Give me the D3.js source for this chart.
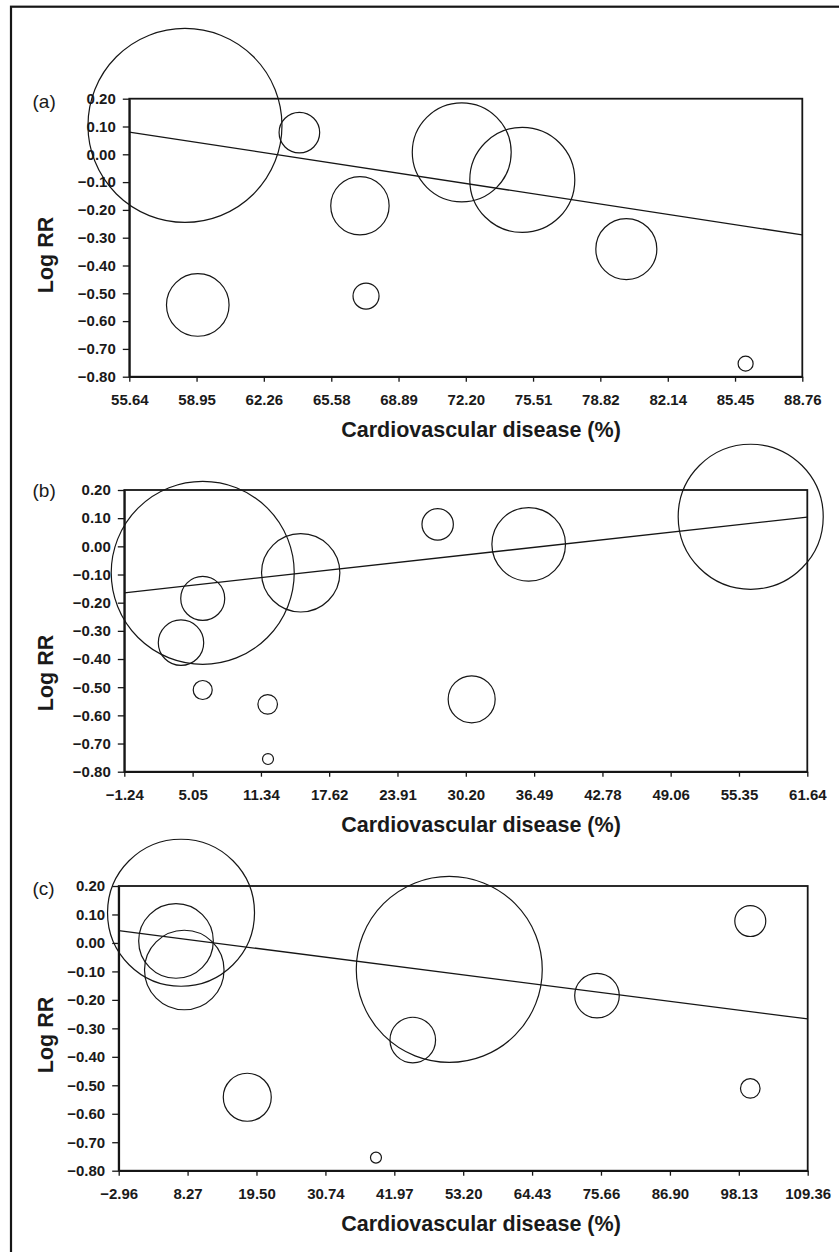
<!DOCTYPE html>
<html>
<head>
<meta charset="utf-8">
<script src="https://cdn.jsdelivr.net/npm/d3@7/dist/d3.min.js"></script>
<style>
  html, body { margin: 0; padding: 0; background: #fff; }
  svg { display: block; }
  text { font-family: "Liberation Sans", Arial, Helvetica, sans-serif; fill: #1a1a1a; }
</style>
</head>
<body>
<svg id="chart" width="839" height="1252"></svg>
<script>
// ---------------- DATA ----------------
const panelLabels = ["(a)", "(b)", "(c)"];
const xTitle = "Cardiovascular disease (%)";
const yTitle = "Log RR";
const yTicks = [0.20, 0.10, 0.00, -0.10, -0.20, -0.30, -0.40, -0.50, -0.60, -0.70, -0.80];

const xTicksA = ["55.64", "58.95", "62.26", "65.58", "68.89", "72.20", "75.51", "78.82", "82.14", "85.45", "88.76"];
const xTicksB = ["\u22121.24", "5.05", "11.34", "17.62", "23.91", "30.20", "36.49", "42.78", "49.06", "55.35", "61.64"];
const xTicksC = ["\u22122.96", "8.27", "19.50", "30.74", "41.97", "53.20", "64.43", "75.66", "86.90", "98.13", "109.36"];

// panel (a)
const cvdA    = [58.38, 64.01, 66.99, 59.01, 67.29, 72.00, 74.98, 80.10, 85.97];
const logRRA  = [0.104, 0.078, -0.185, -0.542, -0.510, 0.007, -0.092, -0.341, -0.753];
const weightA = [100, 4.38, 9.06, 10.41, 1.80, 26.0, 29.3, 9.89, 0.60];
const fitA    = [[55.64, 0.080], [88.76, -0.290]];

// panel (b)
const cvdB    = [5.98, 5.98, 3.98, 5.98, 11.96, 11.99, 15.00, 27.61, 35.99, 56.43, 30.74];
const logRRB  = [-0.094, -0.185, -0.342, -0.510, -0.561, -0.755, -0.094, 0.078, 0.007, 0.105, -0.543];
const weightB = [89.0, 5.14, 5.48, 0.96, 1.02, 0.32, 16.3, 2.62, 14.4, 55.9, 5.87];
const fitB    = [[-1.24, -0.165], [61.64, 0.104]];

// panel (c)
const cvdC    = [7.20, 6.38, 7.73, 18.00, 38.98, 50.93, 44.98, 75.01, 100.00, 100.00];
const logRRC  = [0.106, 0.007, -0.095, -0.542, -0.754, -0.093, -0.341, -0.185, 0.077, -0.511];
const weightC = [57.4, 14.8, 16.8, 6.12, 0.32, 91.9, 5.52, 5.29, 2.55, 1.02];
const fitC    = [[-2.96, 0.043], [109.36, -0.267]];

// ---------------- LAYOUT ----------------
const panels = [
  { label: panelLabels[0], ticks: xTicksA, x: cvdA, y: logRRA, w: weightA, fit: fitA,
    box: { l: 129.3, t: 98.7, r: 802.3, b: 376.7 }, labelY: 108, yTitleY: 255 },
  { label: panelLabels[1], ticks: xTicksB, x: cvdB, y: logRRB, w: weightB, fit: fitB,
    box: { l: 124.3, t: 490, r: 807.3, b: 771.7 }, labelY: 497, yTitleY: 673 },
  { label: panelLabels[2], ticks: xTicksC, x: cvdC, y: logRRC, w: weightC, fit: fitC,
    box: { l: 118.7, t: 886, r: 807.7, b: 1170.7 }, labelY: 895, yTitleY: 1035 }
];

const ink = "#161616";
const svg = d3.select("#chart");

// outer frame (only top and left visible)
svg.append("rect")
  .attr("x", 11).attr("y", 6.7).attr("width", 1000).attr("height", 1400)
  .attr("fill", "none").attr("stroke", ink).attr("stroke-width", 2.2);

const rScale = d3.scaleSqrt().domain([0, 100]).range([0, 97]);
const parseTick = s => +s.replace("\u2212", "-");
const fmtY = d3.format(".2f");
const yLabel = v => { const s = fmtY(Math.abs(v) < 1e-9 ? 0 : v); return s.replace("-", "\u2013"); };

panels.forEach(p => {
  const tv = p.ticks.map(parseTick);
  const x = d3.scaleLinear().domain([tv[0], tv[tv.length - 1]]).range([p.box.l, p.box.r]);
  const y = d3.scaleLinear().domain([-0.8, 0.2]).range([p.box.b, p.box.t]);
  const g = svg.append("g");

  // plot box
  g.append("rect")
    .attr("x", p.box.l).attr("y", p.box.t)
    .attr("width", p.box.r - p.box.l).attr("height", p.box.b - p.box.t)
    .attr("fill", "none").attr("stroke", ink).attr("stroke-width", 1.8);

  // x axis
  const xAxis = d3.axisBottom(x).tickValues(tv)
    .tickFormat((d, i) => p.ticks[i]).tickSize(5).tickPadding(12.3).tickSizeOuter(0);
  const gx = g.append("g").attr("transform", `translate(0,${p.box.b})`).call(xAxis)
    .attr("font-size", 15).attr("font-weight", "bold");
  gx.select(".domain").attr("stroke", ink).attr("stroke-width", 1.8);
  gx.selectAll(".tick line").attr("stroke", ink).attr("stroke-width", 1.3);
  gx.selectAll(".tick text").style("font-size", "15px").style("font-weight", "bold");

  // y axis
  const yAxis = d3.axisLeft(y).tickValues(yTicks).tickFormat(yLabel)
    .tickSize(6.5).tickPadding(7).tickSizeOuter(0);
  const gy = g.append("g").attr("transform", `translate(${p.box.l},0)`).call(yAxis)
    .attr("font-size", 15).attr("font-weight", "bold");
  gy.select(".domain").attr("stroke", ink).attr("stroke-width", 1.8);
  gy.selectAll(".tick line").attr("stroke", ink).attr("stroke-width", 1.3);
  gy.selectAll(".tick text").style("font-size", "15px").style("font-weight", "bold");

  // regression line
  g.append("path")
    .datum(p.fit)
    .attr("d", d3.line().x(d => x(d[0])).y(d => y(d[1])))
    .attr("fill", "none").attr("stroke", ink).attr("stroke-width", 1.3);

  // bubbles
  const pts = p.x.map((v, i) => ({ x: v, y: p.y[i], w: p.w[i] }));
  g.selectAll("circle.bub").data(pts).join("circle")
    .attr("class", "bub")
    .attr("cx", d => x(d.x)).attr("cy", d => y(d.y)).attr("r", d => rScale(d.w))
    .attr("fill", "none").attr("stroke", ink).attr("stroke-width", 1.2);

  // panel label
  g.append("text").attr("x", 32.5).attr("y", p.labelY)
    .style("font-size", "19px").text(p.label);

  // x title
  g.append("text").attr("x", 481).attr("y", p.box.b + 60)
    .attr("text-anchor", "middle").style("font-size", "21.5px").style("font-weight", "bold")
    .text(xTitle);

  // y title
  g.append("text")
    .attr("transform", `translate(52.5,${p.yTitleY}) rotate(-90)`)
    .attr("text-anchor", "middle").style("font-size", "21.5px").style("font-weight", "bold")
    .text(yTitle);
});
</script>
</body>
</html>
